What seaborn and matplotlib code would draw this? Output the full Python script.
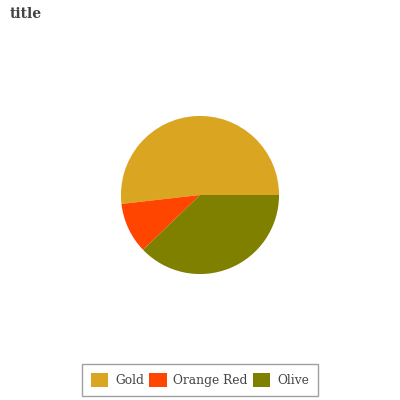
import matplotlib
matplotlib.use("Agg")
import matplotlib.pyplot as plt
import seaborn as sns

# data
labels = ["Gold", "Orange Red", "Olive"]
values = [51.8, 10.4, 37.8]
colors = ["#DAA520", "#FF4500", "#808000"]

sns.set_theme(style="white")
plt.rcParams['font.family'] = ['DejaVu Serif']

fig = plt.figure(figsize=(4, 4), dpi=100)
ax = fig.add_axes([0.253, 0.2655, 0.494, 0.494])
wedges, _ = ax.pie(values, colors=colors, startangle=0, counterclock=True,
                   wedgeprops=dict(linewidth=0))
ax.set_aspect("equal")

fig.text(0.025, 0.955, "title", fontsize=10, fontweight="bold", color="#444444")

leg = fig.legend(wedges, labels, loc="lower center", bbox_to_anchor=(0.5, 0.0),
                 ncol=3, frameon=True, fancybox=False, edgecolor="#888888",
                 fontsize=8.8, handlelength=1.4, handleheight=1.4,
                 columnspacing=0.45, handletextpad=0.55, borderpad=0.75,
                 borderaxespad=0.3)
for t in leg.get_texts():
    t.set_color("#444444")

fig.savefig("out.png", dpi=100)
